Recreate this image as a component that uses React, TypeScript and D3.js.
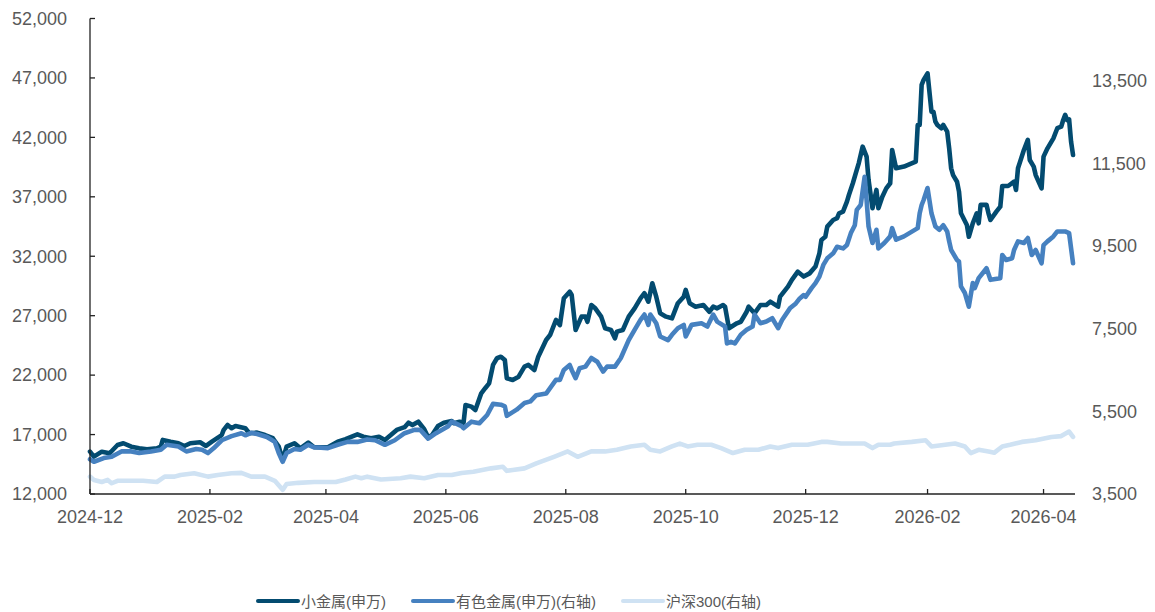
import React from "react";
import * as d3 from "d3";

// ---------- data ----------
const xStartDate = "2024-12-02";
const xEndDate = "2026-04-17";
const xTickDates = ["2024-12-02", "2025-02-01", "2025-04-01", "2025-06-01", "2025-08-01", "2025-10-01", "2025-12-01", "2026-02-01", "2026-04-01"];
const leftTicks = [12000, 17000, 22000, 27000, 32000, 37000, 42000, 47000, 52000];
const rightTicks = [3500, 5500, 7500, 9500, 11500, 13500];
const leftDomain = [12000, 52000];
const rightDomain = [3500, 15000];

const seriesNames = ["小金属(申万)", "有色金属(申万)(右轴)", "沪深300(右轴)"];

const smallMetal: [string, number][] = [["2024-12-02",15560],["2024-12-04",15140],["2024-12-08",15560],["2024-12-12",15430],["2024-12-16",16120],["2024-12-19",16270],["2024-12-23",15980],["2024-12-27",15840],["2024-12-31",15760],["2025-01-05",15840],["2025-01-07",15980],["2025-01-08",16550],["2025-01-12",16400],["2025-01-16",16270],["2025-01-19",16040],["2025-01-22",16270],["2025-01-27",16350],["2025-01-30",16040],["2025-02-02",16400],["2025-02-07",16960],["2025-02-08",17390],["2025-02-10",17800],["2025-02-12",17530],["2025-02-14",17720],["2025-02-19",17530],["2025-02-21",17110],["2025-02-25",17160],["2025-03-01",16960],["2025-03-05",16690],["2025-03-08",15980],["2025-03-10",14860],["2025-03-12",15980],["2025-03-16",16270],["2025-03-19",15840],["2025-03-23",16320],["2025-03-26",15930],["2025-04-02",15930],["2025-04-07",16400],["2025-04-11",16610],["2025-04-17",17020],["2025-04-20",16820],["2025-04-24",16690],["2025-04-28",16820],["2025-05-01",16550],["2025-05-04",16960],["2025-05-07",17390],["2025-05-11",17620],["2025-05-13",18000],["2025-05-15",17800],["2025-05-18",18080],["2025-05-21",17450],["2025-05-23",16770],["2025-05-25",16960],["2025-05-28",17720],["2025-05-31",18000],["2025-06-04",18140],["2025-06-05",17950],["2025-06-08",18080],["2025-06-10",18000],["2025-06-11",19490],["2025-06-14",19350],["2025-06-16",19070],["2025-06-19",20470],["2025-06-21",20900],["2025-06-23",21310],["2025-06-25",22860],["2025-06-27",23420],["2025-06-29",23550],["2025-07-01",23270],["2025-07-02",21740],["2025-07-05",21590],["2025-07-08",21870],["2025-07-11",22710],["2025-07-13",22860],["2025-07-16",22430],["2025-07-18",23550],["2025-07-22",24960],["2025-07-24",25370],["2025-07-27",26640],["2025-07-29",26210],["2025-07-31",28460],["2025-08-03",29020],["2025-08-04",28740],["2025-08-06",25800],["2025-08-09",26920],["2025-08-11",26920],["2025-08-12",26490],["2025-08-14",27900],["2025-08-16",27620],["2025-08-19",26920],["2025-08-21",25940],["2025-08-24",25800],["2025-08-26",25090],["2025-08-27",25660],["2025-08-30",25800],["2025-09-02",26920],["2025-09-05",27620],["2025-09-08",28460],["2025-09-10",28890],["2025-09-12",28180],["2025-09-14",29730],["2025-09-16",28600],["2025-09-18",27200],["2025-09-21",26920],["2025-09-24",26780],["2025-09-27",28050],["2025-09-30",28600],["2025-10-01",29170],["2025-10-03",28050],["2025-10-06",27760],["2025-10-10",27900],["2025-10-13",27330],["2025-10-15",27760],["2025-10-17",27620],["2025-10-20",27900],["2025-10-21",27760],["2025-10-23",25940],["2025-10-27",26360],["2025-10-29",26490],["2025-11-01",27330],["2025-11-02",27760],["2025-11-05",27200],["2025-11-08",27900],["2025-11-11",27900],["2025-11-13",28180],["2025-11-17",27760],["2025-11-18",28600],["2025-11-22",29440],["2025-11-24",30010],["2025-11-27",30700],["2025-11-30",30290],["2025-12-03",30560],["2025-12-06",31130],["2025-12-08",32250],["2025-12-09",33370],["2025-12-11",33640],["2025-12-12",34490],["2025-12-15",35050],["2025-12-17",35200],["2025-12-18",35610],["2025-12-20",35750],["2025-12-22",36600],["2025-12-23",37150],["2025-12-25",38140],["2025-12-27",39260],["2025-12-28",39820],["2025-12-30",41220],["2026-01-01",40380],["2026-01-02",38420],["2026-01-04",36040],["2026-01-06",37580],["2026-01-07",36040],["2026-01-09",37010],["2026-01-11",37710],["2026-01-13",38140],["2026-01-14",40940],["2026-01-16",39400],["2026-01-20",39540],["2026-01-26",39950],["2026-01-27",43040],["2026-01-28",43040],["2026-01-29",46410],["2026-01-30",46830],["2026-02-01",47390],["2026-02-03",44160],["2026-02-04",44160],["2026-02-05",43320],["2026-02-06",43040],["2026-02-08",42770],["2026-02-09",43040],["2026-02-11",42480],["2026-02-12",41080],["2026-02-13",39400],["2026-02-14",38830],["2026-02-16",38270],["2026-02-17",37440],["2026-02-18",35610],["2026-02-21",34630],["2026-02-22",33640],["2026-02-24",34770],["2026-02-26",35610],["2026-02-27",34770],["2026-02-28",36320],["2026-03-03",36320],["2026-03-04",35610],["2026-03-05",35050],["2026-03-08",35750],["2026-03-10",36170],["2026-03-11",37910],["2026-03-14",37910],["2026-03-17",38270],["2026-03-18",37580],["2026-03-19",39400],["2026-03-22",40940],["2026-03-24",41790],["2026-03-25",40100],["2026-03-27",39540],["2026-03-28",38830],["2026-03-31",37710],["2026-04-01",40380],["2026-04-03",41080],["2026-04-06",41920],["2026-04-08",42770],["2026-04-10",42900],["2026-04-11",43460],["2026-04-12",43890],["2026-04-13",43460],["2026-04-14",43520],["2026-04-15",41640],["2026-04-16",40520]];

const nonFerrous: [string, number][] = [["2024-12-02",4340],["2024-12-04",4280],["2024-12-09",4370],["2024-12-13",4400],["2024-12-18",4530],["2024-12-23",4530],["2024-12-27",4490],["2025-01-02",4530],["2025-01-07",4570],["2025-01-10",4690],["2025-01-16",4650],["2025-01-20",4530],["2025-01-25",4590],["2025-01-28",4570],["2025-01-31",4490],["2025-02-03",4610],["2025-02-07",4800],["2025-02-12",4900],["2025-02-17",4970],["2025-02-19",4920],["2025-02-22",4980],["2025-02-25",4950],["2025-03-02",4880],["2025-03-06",4760],["2025-03-08",4490],["2025-03-10",4280],["2025-03-12",4490],["2025-03-16",4590],["2025-03-19",4570],["2025-03-23",4690],["2025-03-26",4630],["2025-04-02",4610],["2025-04-07",4690],["2025-04-12",4760],["2025-04-17",4760],["2025-04-22",4820],["2025-04-26",4800],["2025-05-01",4690],["2025-05-06",4800],["2025-05-11",4970],["2025-05-16",5050],["2025-05-19",5050],["2025-05-23",4840],["2025-05-27",4970],["2025-06-02",5130],["2025-06-04",5250],["2025-06-09",5140],["2025-06-10",5090],["2025-06-14",5250],["2025-06-18",5210],["2025-06-22",5410],["2025-06-25",5680],["2025-06-29",5660],["2025-07-01",5620],["2025-07-02",5390],["2025-07-07",5540],["2025-07-11",5700],["2025-07-14",5740],["2025-07-17",5890],["2025-07-22",5930],["2025-07-24",6060],["2025-07-27",6260],["2025-07-29",6260],["2025-07-31",6500],["2025-08-03",6620],["2025-08-04",6500],["2025-08-06",6300],["2025-08-08",6540],["2025-08-11",6580],["2025-08-14",6790],["2025-08-17",6700],["2025-08-20",6460],["2025-08-22",6580],["2025-08-26",6580],["2025-08-29",6790],["2025-09-02",7220],["2025-09-05",7470],["2025-09-08",7710],["2025-09-10",7840],["2025-09-12",7590],["2025-09-13",7840],["2025-09-16",7630],["2025-09-18",7310],["2025-09-22",7220],["2025-09-24",7350],["2025-09-27",7510],["2025-09-30",7590],["2025-10-01",7310],["2025-10-04",7590],["2025-10-09",7630],["2025-10-12",7550],["2025-10-15",7840],["2025-10-17",7670],["2025-10-21",7550],["2025-10-22",7140],["2025-10-24",7180],["2025-10-26",7140],["2025-10-29",7350],["2025-11-01",7470],["2025-11-04",7550],["2025-11-05",7840],["2025-11-08",7630],["2025-11-11",7670],["2025-11-14",7750],["2025-11-17",7510],["2025-11-19",7710],["2025-11-23",7990],["2025-11-26",8110],["2025-11-28",8230],["2025-11-30",8310],["2025-12-01",8270],["2025-12-04",8480],["2025-12-06",8600],["2025-12-08",8760],["2025-12-10",9040],["2025-12-12",9200],["2025-12-15",9320],["2025-12-17",9480],["2025-12-20",9440],["2025-12-22",9520],["2025-12-24",9810],["2025-12-26",10000],["2025-12-27",10370],["2025-12-29",10490],["2025-12-31",11170],["2026-01-01",10610],["2026-01-02",9970],["2026-01-04",9570],["2026-01-06",9890],["2026-01-07",9440],["2026-01-10",9570],["2026-01-13",9730],["2026-01-14",9930],["2026-01-16",9650],["2026-01-20",9730],["2026-01-27",9930],["2026-01-28",10290],["2026-01-29",10490],["2026-01-30",10610],["2026-02-01",10900],["2026-02-03",10290],["2026-02-04",10130],["2026-02-05",9970],["2026-02-07",9890],["2026-02-09",10000],["2026-02-11",9850],["2026-02-12",9610],["2026-02-13",9400],["2026-02-16",9160],["2026-02-17",9120],["2026-02-18",8520],["2026-02-20",8360],["2026-02-22",8030],["2026-02-24",8600],["2026-02-25",8480],["2026-02-27",8720],["2026-03-01",8840],["2026-03-03",8960],["2026-03-05",8680],["2026-03-10",8720],["2026-03-11",9280],["2026-03-13",9160],["2026-03-16",9200],["2026-03-17",9400],["2026-03-19",9610],["2026-03-22",9570],["2026-03-24",9690],["2026-03-26",9280],["2026-03-28",9400],["2026-03-31",9080],["2026-04-01",9520],["2026-04-03",9610],["2026-04-06",9730],["2026-04-08",9850],["2026-04-12",9850],["2026-04-14",9810],["2026-04-16",9080]];

const csi300: [string, number][] = [["2024-12-02",3920],["2024-12-04",3840],["2024-12-08",3790],["2024-12-11",3840],["2024-12-13",3760],["2024-12-16",3820],["2024-12-23",3820],["2024-12-29",3820],["2025-01-05",3790],["2025-01-09",3920],["2025-01-14",3920],["2025-01-17",3960],["2025-01-24",4000],["2025-01-31",3920],["2025-02-05",3960],["2025-02-12",4000],["2025-02-17",4010],["2025-02-22",3920],["2025-03-01",3920],["2025-03-06",3820],["2025-03-10",3600],["2025-03-12",3740],["2025-03-18",3770],["2025-03-26",3790],["2025-04-06",3790],["2025-04-11",3850],["2025-04-16",3920],["2025-04-19",3880],["2025-04-22",3920],["2025-04-29",3850],["2025-05-09",3880],["2025-05-14",3920],["2025-05-21",3880],["2025-05-28",3960],["2025-06-04",3960],["2025-06-09",4010],["2025-06-15",4040],["2025-06-24",4120],["2025-06-30",4160],["2025-07-02",4060],["2025-07-05",4080],["2025-07-11",4120],["2025-07-17",4240],["2025-07-26",4400],["2025-08-02",4530],["2025-08-07",4400],["2025-08-14",4530],["2025-08-21",4530],["2025-08-27",4570],["2025-09-03",4650],["2025-09-10",4690],["2025-09-13",4570],["2025-09-18",4530],["2025-09-24",4650],["2025-09-28",4720],["2025-10-02",4650],["2025-10-07",4690],["2025-10-14",4690],["2025-10-19",4610],["2025-10-25",4490],["2025-10-31",4570],["2025-11-07",4570],["2025-11-13",4650],["2025-11-17",4610],["2025-11-24",4690],["2025-12-02",4690],["2025-12-09",4760],["2025-12-12",4760],["2025-12-19",4720],["2025-12-31",4720],["2026-01-04",4610],["2026-01-07",4690],["2026-01-13",4690],["2026-01-15",4720],["2026-01-24",4760],["2026-01-31",4800],["2026-02-03",4650],["2026-02-10",4690],["2026-02-15",4720],["2026-02-20",4650],["2026-02-23",4490],["2026-02-27",4570],["2026-03-04",4530],["2026-03-07",4500],["2026-03-11",4650],["2026-03-15",4690],["2026-03-21",4760],["2026-03-28",4800],["2026-04-05",4880],["2026-04-10",4900],["2026-04-14",5010],["2026-04-16",4880]];

// ---------- layout ----------
const W = 1155;
const H = 612;
const plot = { left: 90, right: 1075, top: 18.5, bottom: 494 };
const colors = ["#034b70", "#4681c0", "#cfe2f3"];
const FONT = "'Liberation Sans', Arial, 'Noto Sans CJK SC', sans-serif";
const TEXT = "#595959";

const parse = d3.timeParse("%Y-%m-%d");
const fmtMonth = d3.timeFormat("%Y-%m");
const fmtNum = d3.format(",");

export default function App() {
  const x = d3.scaleTime()
    .domain([parse(xStartDate)!, parse(xEndDate)!])
    .range([plot.left, plot.right]);
  const yL = d3.scaleLinear().domain(leftDomain).range([plot.bottom, plot.top]);
  const yR = d3.scaleLinear().domain(rightDomain).range([plot.bottom, plot.top]);

  const mkLine = (y: d3.ScaleLinear<number, number>) =>
    d3.line<[string, number]>()
      .x((d) => x(parse(d[0])!))
      .y((d) => y(d[1]));

  const series = [
    { data: smallMetal, y: yL, color: colors[0] },
    { data: nonFerrous, y: yR, color: colors[1] },
    { data: csi300, y: yR, color: colors[2] },
  ];

  const legendX = [258, 413, 623];
  const legendY = 602;

  return (
    <svg width={W} height={H} style={{ position: "absolute", left: 0, top: 0, background: "#fff" }} fontFamily={FONT}>
      <rect width={W} height={H} fill="#fff" />
      {series.map((s, i) => (
        <path key={i} d={mkLine(s.y)(s.data) || ""} fill="none" stroke={s.color}
          strokeWidth={4.6} strokeLinejoin="round" strokeLinecap="round" />
      ))}
      {/* left axis */}
      <line x1={plot.left} x2={plot.left} y1={plot.top} y2={plot.bottom} stroke="#222" strokeWidth={1.3} />
      {leftTicks.map((t) => (
        <g key={t}>
          <line x1={plot.left} x2={plot.left + 5} y1={yL(t)} y2={yL(t)} stroke="#222" strokeWidth={1.3} />
          <text x={67} y={yL(t)} dy="0.35em" textAnchor="end" fontSize={18} fill={TEXT}>{fmtNum(t)}</text>
        </g>
      ))}
      {/* right axis labels */}
      {rightTicks.map((t) => (
        <text key={t} x={1092} y={yR(t)} dy="0.35em" textAnchor="start" fontSize={18} fill={TEXT}>{fmtNum(t)}</text>
      ))}
      {/* bottom axis */}
      <line x1={plot.left} x2={plot.right} y1={plot.bottom} y2={plot.bottom} stroke="#222" strokeWidth={1.3} />
      {xTickDates.map((ds) => {
        const px = x(parse(ds)!);
        return (
          <g key={ds}>
            <line x1={px} x2={px} y1={plot.bottom} y2={plot.bottom - 5} stroke="#222" strokeWidth={1.3} />
            <text x={px} y={523} textAnchor="middle" fontSize={18} fill={TEXT}>{fmtMonth(parse(ds)!)}</text>
          </g>
        );
      })}
      {/* legend */}
      {seriesNames.map((name, i) => (
        <g key={name}>
          <line x1={legendX[i]} x2={legendX[i] + 40} y1={legendY - 1} y2={legendY - 1} stroke={colors[i]} strokeWidth={4} strokeLinecap="round" />
          <text x={legendX[i] + 43} y={legendY} dy="0.35em" fontSize={15} fill={TEXT}>{name}</text>
        </g>
      ))}
    </svg>
  );
}
